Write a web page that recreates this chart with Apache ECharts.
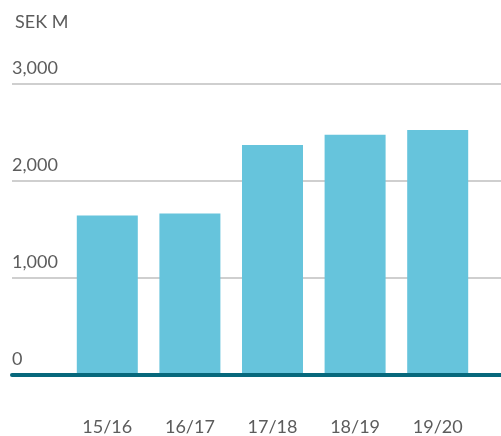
<!DOCTYPE html>
<html>
<head>
<meta charset="utf-8">
<script src="https://cdn.jsdelivr.net/npm/echarts@6/dist/echarts.min.js"></script>
<style>
  html, body { margin: 0; padding: 0; background: #ffffff; }
  #chart { width: 501px; height: 436px; }
</style>
</head>
<body>
<div id="chart"></div>
<script>
// Fiscal years and values in SEK million
const categories = ['15/16', '16/17', '17/18', '18/19', '19/20'];
const values = [1640, 1660, 2370, 2475, 2525];
const yTicks = [0, 1000, 2000, 3000];
const unitLabel = 'SEK M';

const FONT = 'Lato, "Noto Sans", sans-serif';
const TEXT = '#5c5c5c';
const yMax = yTicks[yTicks.length - 1];
const yStep = yTicks[1] - yTicks[0];

const chart = echarts.init(document.getElementById('chart'), null, { renderer: 'canvas' });

chart.setOption({
  animation: false,
  title: {
    text: unitLabel,
    left: 10,
    top: 8,
    textStyle: { fontFamily: FONT, fontSize: 18, fontWeight: 'normal', color: TEXT }
  },
  grid: [
    // full-width grid carrying the gridlines, value labels and baseline
    { left: 12, right: 0, top: 84, bottom: 61, containLabel: false },
    // inner grid holding the bars
    { left: 66, right: 22, top: 84, bottom: 61, containLabel: false }
  ],
  xAxis: [
    {
      gridIndex: 0,
      type: 'value',
      min: 0,
      max: 1,
      z: 5,
      axisLine: { show: true, onZero: false, lineStyle: { color: '#07687c', width: 4 } },
      axisTick: { show: false },
      axisLabel: { show: false },
      splitLine: { show: false }
    },
    {
      gridIndex: 1,
      type: 'category',
      data: categories,
      axisLine: { show: false },
      axisTick: { show: false },
      axisLabel: {
        margin: 44,
        fontFamily: FONT,
        fontSize: 18,
        color: TEXT,
        lineHeight: 18
      }
    }
  ],
  yAxis: [
    {
      gridIndex: 0,
      type: 'value',
      min: 0,
      max: yMax,
      interval: yStep,
      axisLine: { show: false },
      axisTick: { show: false },
      axisLabel: {
        inside: true,
        margin: 0,
        fontFamily: FONT,
        fontSize: 18,
        color: TEXT,
        verticalAlign: 'bottom',
        lineHeight: 32,
        formatter: v => v.toLocaleString('en-US')
      },
      splitLine: { show: true, lineStyle: { color: '#cfcfcf', width: 2 } }
    },
    {
      gridIndex: 1,
      type: 'value',
      min: 0,
      max: yMax,
      interval: yStep,
      show: false,
      splitLine: { show: false }
    }
  ],
  series: [
    {
      type: 'bar',
      xAxisIndex: 1,
      yAxisIndex: 1,
      data: values,
      barWidth: 61,
      itemStyle: { color: '#66c4dc' },
      z: 2
    }
  ]
});
</script>
</body>
</html>
